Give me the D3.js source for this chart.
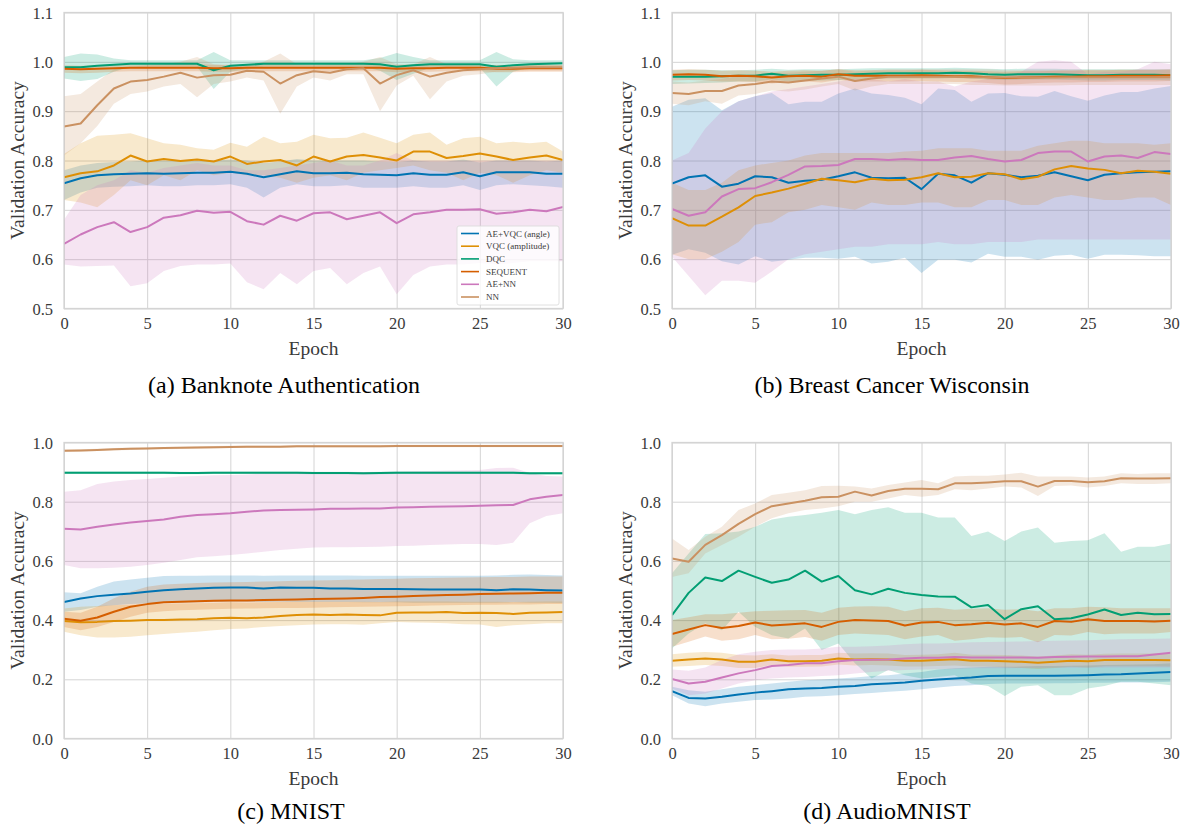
<!DOCTYPE html>
<html>
<head>
<meta charset="utf-8">
<script src="https://cdn.jsdelivr.net/npm/d3@7"></script>
<style>
  body { margin: 0; background: #fff; }
  svg { display: block; }
  .tick text { font-family: "Liberation Serif", "Times New Roman", serif; fill: #3a3a3a; }
</style>
</head>
<body>
<div id="viz"></div>
<script>
// epochs on the x axis
var epochs = d3.range(0, 31);
var xTicks = [0, 5, 10, 15, 20, 25, 30];
var yTicksTop = [0.5, 0.6, 0.7, 0.8, 0.9, 1.0, 1.1];
var yTicksBottom = [0.0, 0.2, 0.4, 0.6, 0.8, 1.0];

var methods = ["AE+VQC (angle)", "VQC (amplitude)", "DQC", "SEQUENT", "AE+NN", "NN"];
var colors = ["#0173b2", "#de8f05", "#029e73", "#d55e00", "#cc78bc", "#ca9161"];

// ---------- (a) Banknote Authentication ----------
var bank_aevqc    = [0.754,0.764,0.770,0.772,0.773,0.774,0.773,0.774,0.775,0.775,0.777,0.773,0.766,0.772,0.778,0.774,0.774,0.775,0.772,0.771,0.770,0.774,0.771,0.771,0.776,0.768,0.776,0.776,0.776,0.773,0.773];
var bank_aevqc_hi = [0.780,0.790,0.795,0.797,0.798,0.800,0.800,0.800,0.800,0.800,0.802,0.800,0.795,0.798,0.803,0.800,0.800,0.800,0.800,0.798,0.797,0.800,0.798,0.798,0.802,0.796,0.800,0.800,0.800,0.798,0.800];
var bank_aevqc_lo = [0.720,0.735,0.745,0.747,0.748,0.750,0.748,0.748,0.750,0.750,0.752,0.745,0.725,0.745,0.752,0.748,0.748,0.750,0.745,0.745,0.745,0.748,0.745,0.745,0.750,0.740,0.750,0.752,0.750,0.748,0.745];
var bank_vqc      = [0.766,0.774,0.778,0.790,0.810,0.798,0.803,0.799,0.802,0.798,0.808,0.793,0.798,0.801,0.790,0.808,0.798,0.808,0.811,0.806,0.800,0.818,0.818,0.805,0.809,0.814,0.808,0.801,0.806,0.810,0.801];
var bank_vqc_hi   = [0.813,0.835,0.850,0.852,0.855,0.845,0.835,0.832,0.825,0.822,0.836,0.828,0.848,0.835,0.838,0.852,0.845,0.846,0.857,0.846,0.835,0.852,0.857,0.832,0.845,0.848,0.835,0.838,0.835,0.838,0.818];
var bank_vqc_lo   = [0.720,0.715,0.705,0.730,0.760,0.750,0.770,0.760,0.780,0.770,0.775,0.770,0.770,0.765,0.755,0.765,0.770,0.760,0.775,0.780,0.785,0.790,0.780,0.775,0.760,0.775,0.770,0.755,0.770,0.780,0.775];
var bank_dqc      = [0.989,0.989,0.992,0.994,0.996,0.996,0.996,0.996,0.996,0.983,0.992,0.994,0.996,0.996,0.996,0.996,0.996,0.996,0.996,0.995,0.990,0.993,0.995,0.995,0.995,0.995,0.990,0.993,0.995,0.996,0.997];
var bank_dqc_hi   = [1.010,1.017,1.015,1.007,1.003,1.003,1.003,1.003,1.003,1.020,1.003,1.003,1.003,1.003,1.003,1.003,1.003,1.003,1.003,1.008,1.018,1.010,1.003,1.003,1.003,1.003,1.020,1.005,1.003,1.003,1.003];
var bank_dqc_lo   = [0.966,0.961,0.965,0.980,0.990,0.990,0.990,0.990,0.990,0.945,0.980,0.985,0.990,0.990,0.990,0.990,0.990,0.990,0.990,0.982,0.963,0.976,0.988,0.988,0.988,0.988,0.950,0.980,0.988,0.990,0.990];
var bank_seq      = [0.986,0.985,0.986,0.987,0.988,0.988,0.988,0.988,0.988,0.987,0.987,0.988,0.988,0.988,0.988,0.988,0.988,0.988,0.988,0.988,0.986,0.987,0.987,0.988,0.988,0.988,0.986,0.986,0.987,0.987,0.987];
var bank_seq_hi   = [0.993,0.992,0.993,0.994,0.994,0.994,0.994,0.994,0.995,0.994,0.994,0.994,0.994,0.994,0.994,0.994,0.994,0.994,0.994,0.994,0.993,0.994,0.994,0.994,0.994,0.994,0.993,0.993,0.994,0.994,0.994];
var bank_seq_lo   = [0.978,0.977,0.978,0.980,0.981,0.981,0.981,0.981,0.981,0.980,0.980,0.981,0.981,0.981,0.981,0.981,0.981,0.981,0.981,0.981,0.979,0.980,0.980,0.981,0.981,0.981,0.979,0.979,0.980,0.980,0.980];
var bank_aenn     = [0.631,0.650,0.665,0.675,0.655,0.665,0.684,0.689,0.698,0.694,0.696,0.677,0.670,0.688,0.678,0.693,0.695,0.681,0.688,0.695,0.673,0.691,0.695,0.700,0.700,0.701,0.692,0.695,0.700,0.697,0.706];
var bank_aenn_hi  = [0.680,0.730,0.750,0.760,0.780,0.775,0.785,0.790,0.795,0.790,0.790,0.780,0.780,0.785,0.790,0.795,0.800,0.790,0.790,0.800,0.815,0.800,0.800,0.800,0.800,0.800,0.800,0.800,0.800,0.800,0.800];
var bank_aenn_lo  = [0.589,0.585,0.586,0.587,0.545,0.551,0.576,0.586,0.589,0.589,0.591,0.553,0.539,0.572,0.549,0.576,0.582,0.549,0.572,0.585,0.529,0.568,0.585,0.589,0.589,0.592,0.589,0.592,0.596,0.596,0.596];
var bank_nn       = [0.869,0.875,0.912,0.946,0.960,0.963,0.970,0.978,0.968,0.973,0.974,0.982,0.980,0.956,0.973,0.981,0.978,0.985,0.987,0.956,0.973,0.983,0.970,0.978,0.983,0.985,0.987,0.988,0.989,0.989,0.989];
var bank_nn_hi    = [0.930,0.935,0.960,0.985,0.990,0.993,0.995,1.000,1.010,0.995,0.992,0.995,1.000,1.017,0.995,0.993,0.995,0.995,1.000,1.010,0.995,0.995,1.010,0.995,0.993,0.993,0.993,0.993,0.993,0.993,0.993];
var bank_nn_lo    = [0.810,0.835,0.870,0.915,0.935,0.940,0.950,0.955,0.928,0.955,0.960,0.968,0.962,0.895,0.950,0.968,0.962,0.975,0.975,0.900,0.952,0.972,0.924,0.960,0.972,0.975,0.980,0.981,0.982,0.982,0.982];

// ---------- (b) Breast Cancer Wisconsin ----------
var bcw_aevqc    = [0.753,0.766,0.770,0.747,0.753,0.768,0.766,0.755,0.759,0.761,0.768,0.776,0.765,0.764,0.765,0.742,0.773,0.770,0.755,0.774,0.771,0.766,0.769,0.776,0.768,0.760,0.771,0.774,0.776,0.777,0.778];
var bcw_aevqc_hi = [0.909,0.923,0.926,0.902,0.920,0.930,0.937,0.914,0.919,0.919,0.936,0.946,0.936,0.933,0.927,0.914,0.946,0.943,0.919,0.936,0.937,0.930,0.929,0.941,0.930,0.921,0.932,0.939,0.939,0.946,0.951];
var bcw_aevqc_lo = [0.609,0.620,0.613,0.596,0.589,0.606,0.595,0.599,0.603,0.603,0.601,0.605,0.591,0.595,0.603,0.572,0.599,0.599,0.593,0.611,0.605,0.605,0.599,0.607,0.609,0.601,0.609,0.609,0.608,0.606,0.606];
var bcw_vqc      = [0.683,0.668,0.668,0.686,0.705,0.728,0.735,0.743,0.753,0.763,0.760,0.756,0.763,0.760,0.761,0.766,0.774,0.766,0.767,0.774,0.772,0.762,0.767,0.782,0.789,0.784,0.781,0.774,0.779,0.777,0.773];
var bcw_vqc_hi   = [0.755,0.740,0.740,0.755,0.780,0.790,0.795,0.800,0.810,0.815,0.815,0.815,0.815,0.815,0.818,0.820,0.825,0.825,0.825,0.820,0.820,0.820,0.830,0.835,0.840,0.840,0.835,0.835,0.835,0.832,0.835];
var bcw_vqc_lo   = [0.610,0.600,0.600,0.615,0.635,0.670,0.675,0.695,0.700,0.710,0.705,0.700,0.715,0.710,0.710,0.715,0.715,0.705,0.705,0.720,0.720,0.710,0.710,0.725,0.730,0.725,0.720,0.720,0.725,0.725,0.710];
var bcw_dqc      = [0.970,0.970,0.970,0.971,0.972,0.972,0.976,0.972,0.973,0.974,0.974,0.975,0.976,0.977,0.977,0.977,0.977,0.978,0.977,0.975,0.974,0.975,0.975,0.975,0.974,0.973,0.973,0.974,0.974,0.974,0.973];
var bcw_dqc_hi   = [0.983,0.984,0.984,0.983,0.983,0.984,0.986,0.984,0.985,0.985,0.985,0.986,0.987,0.987,0.987,0.987,0.987,0.988,0.987,0.986,0.985,0.986,0.986,0.986,0.985,0.985,0.985,0.985,0.985,0.985,0.985];
var bcw_dqc_lo   = [0.955,0.956,0.957,0.958,0.960,0.960,0.964,0.960,0.961,0.962,0.963,0.964,0.965,0.966,0.966,0.966,0.966,0.967,0.966,0.964,0.963,0.964,0.964,0.964,0.963,0.962,0.962,0.963,0.963,0.963,0.962];
var bcw_seq      = [0.974,0.975,0.974,0.971,0.972,0.971,0.968,0.971,0.972,0.970,0.975,0.972,0.972,0.972,0.972,0.973,0.972,0.971,0.971,0.969,0.967,0.968,0.969,0.970,0.970,0.971,0.971,0.972,0.972,0.972,0.973];
var bcw_seq_hi   = [0.984,0.985,0.984,0.982,0.983,0.982,0.980,0.982,0.983,0.982,0.985,0.983,0.983,0.983,0.983,0.984,0.983,0.982,0.982,0.981,0.980,0.981,0.981,0.982,0.982,0.983,0.983,0.984,0.984,0.984,0.985];
var bcw_seq_lo   = [0.962,0.963,0.962,0.960,0.960,0.959,0.956,0.959,0.960,0.958,0.963,0.960,0.960,0.960,0.960,0.961,0.960,0.959,0.959,0.957,0.954,0.955,0.957,0.958,0.958,0.959,0.959,0.960,0.960,0.960,0.961];
var bcw_aenn     = [0.702,0.688,0.695,0.727,0.742,0.744,0.756,0.771,0.788,0.789,0.791,0.803,0.803,0.801,0.803,0.801,0.801,0.806,0.809,0.803,0.798,0.801,0.815,0.818,0.818,0.798,0.808,0.810,0.805,0.817,0.813];
var bcw_aenn_hi  = [0.800,0.815,0.865,0.900,0.920,0.930,0.940,0.945,0.950,0.955,0.960,0.965,0.965,0.960,0.965,0.960,0.960,0.950,0.960,0.965,0.970,0.980,1.000,1.003,1.000,0.975,0.980,0.980,0.985,1.000,0.995];
var bcw_aenn_lo  = [0.605,0.566,0.527,0.556,0.556,0.552,0.575,0.600,0.610,0.615,0.620,0.625,0.625,0.630,0.630,0.630,0.635,0.630,0.630,0.635,0.635,0.635,0.640,0.640,0.640,0.640,0.640,0.640,0.640,0.640,0.640];
var bcw_nn       = [0.937,0.935,0.941,0.941,0.952,0.955,0.960,0.958,0.962,0.966,0.970,0.961,0.966,0.970,0.970,0.970,0.970,0.970,0.969,0.969,0.968,0.968,0.968,0.968,0.969,0.969,0.969,0.969,0.969,0.969,0.969];
var bcw_nn_hi    = [0.960,0.958,0.962,0.965,0.972,0.975,0.978,0.978,0.980,0.982,0.985,0.980,0.983,0.985,0.985,0.985,0.985,0.985,0.985,0.985,0.983,0.983,0.983,0.983,0.984,0.984,0.984,0.984,0.984,0.984,0.984];
var bcw_nn_lo    = [0.915,0.912,0.920,0.915,0.932,0.935,0.942,0.940,0.944,0.950,0.955,0.942,0.950,0.955,0.955,0.955,0.955,0.955,0.953,0.953,0.952,0.952,0.952,0.952,0.953,0.953,0.953,0.953,0.953,0.953,0.953];

// ---------- (c) MNIST ----------
var mnist_aevqc    = [0.461,0.473,0.481,0.486,0.490,0.496,0.501,0.504,0.507,0.509,0.510,0.510,0.507,0.510,0.509,0.509,0.507,0.507,0.505,0.505,0.505,0.504,0.503,0.503,0.503,0.503,0.501,0.504,0.503,0.501,0.500];
var mnist_aevqc_hi = [0.494,0.491,0.513,0.530,0.537,0.543,0.549,0.550,0.550,0.551,0.551,0.551,0.550,0.551,0.551,0.551,0.551,0.551,0.550,0.550,0.550,0.550,0.550,0.550,0.550,0.550,0.551,0.553,0.554,0.552,0.551];
var mnist_aevqc_lo = [0.428,0.434,0.445,0.450,0.454,0.456,0.458,0.459,0.460,0.461,0.462,0.462,0.461,0.462,0.461,0.461,0.461,0.461,0.460,0.460,0.460,0.459,0.459,0.459,0.459,0.459,0.459,0.460,0.459,0.459,0.458];
var mnist_vqc      = [0.397,0.393,0.394,0.397,0.398,0.400,0.400,0.402,0.403,0.406,0.408,0.406,0.409,0.414,0.417,0.419,0.417,0.419,0.417,0.416,0.425,0.426,0.426,0.427,0.424,0.425,0.424,0.421,0.425,0.426,0.427];
var mnist_vqc_hi   = [0.439,0.445,0.448,0.450,0.452,0.454,0.455,0.456,0.457,0.458,0.460,0.459,0.460,0.461,0.462,0.462,0.462,0.462,0.462,0.461,0.463,0.463,0.463,0.463,0.462,0.462,0.462,0.461,0.462,0.463,0.463];
var mnist_vqc_lo   = [0.361,0.349,0.341,0.341,0.344,0.349,0.353,0.357,0.361,0.366,0.370,0.372,0.377,0.380,0.383,0.385,0.386,0.386,0.384,0.389,0.394,0.392,0.391,0.389,0.386,0.385,0.377,0.383,0.386,0.389,0.389];
var mnist_dqc      = [0.898,0.898,0.898,0.898,0.898,0.898,0.898,0.897,0.897,0.898,0.898,0.898,0.898,0.898,0.898,0.897,0.897,0.897,0.896,0.897,0.898,0.898,0.898,0.898,0.898,0.898,0.898,0.898,0.896,0.896,0.896];
var mnist_dqc_hi   = [0.902,0.902,0.902,0.902,0.902,0.902,0.902,0.901,0.901,0.902,0.902,0.902,0.902,0.902,0.902,0.901,0.901,0.901,0.900,0.901,0.902,0.902,0.902,0.902,0.902,0.902,0.902,0.902,0.900,0.900,0.900];
var mnist_dqc_lo   = [0.894,0.894,0.894,0.894,0.894,0.894,0.894,0.893,0.893,0.894,0.894,0.894,0.894,0.894,0.894,0.893,0.893,0.893,0.892,0.893,0.894,0.894,0.894,0.894,0.894,0.894,0.894,0.894,0.892,0.892,0.892];
var mnist_seq      = [0.405,0.398,0.409,0.428,0.445,0.454,0.460,0.462,0.464,0.465,0.466,0.466,0.468,0.469,0.470,0.471,0.472,0.473,0.475,0.478,0.479,0.481,0.483,0.485,0.486,0.488,0.489,0.490,0.491,0.492,0.492];
var mnist_seq_hi   = [0.428,0.425,0.445,0.474,0.496,0.513,0.520,0.523,0.525,0.527,0.528,0.529,0.530,0.531,0.533,0.534,0.535,0.536,0.537,0.539,0.540,0.541,0.542,0.543,0.544,0.545,0.546,0.546,0.547,0.547,0.547];
var mnist_seq_lo   = [0.377,0.366,0.377,0.394,0.411,0.425,0.430,0.433,0.435,0.437,0.438,0.439,0.440,0.441,0.441,0.442,0.443,0.444,0.445,0.446,0.447,0.448,0.449,0.450,0.451,0.452,0.452,0.453,0.453,0.454,0.454];
var mnist_aenn     = [0.709,0.706,0.715,0.723,0.730,0.735,0.740,0.749,0.755,0.758,0.761,0.766,0.770,0.772,0.773,0.774,0.776,0.776,0.777,0.777,0.780,0.781,0.783,0.784,0.785,0.786,0.788,0.789,0.808,0.817,0.823];
var mnist_aenn_hi  = [0.834,0.839,0.860,0.868,0.873,0.877,0.881,0.885,0.887,0.889,0.890,0.892,0.895,0.896,0.898,0.898,0.899,0.899,0.900,0.900,0.901,0.903,0.904,0.905,0.906,0.907,0.914,0.915,0.897,0.887,0.885];
var mnist_aenn_lo  = [0.586,0.575,0.575,0.577,0.580,0.586,0.594,0.603,0.612,0.616,0.620,0.625,0.631,0.637,0.641,0.645,0.646,0.646,0.647,0.648,0.650,0.651,0.654,0.655,0.657,0.657,0.654,0.661,0.727,0.752,0.761];
var mnist_nn       = [0.972,0.973,0.975,0.977,0.979,0.980,0.981,0.982,0.983,0.984,0.985,0.986,0.986,0.986,0.987,0.987,0.987,0.987,0.987,0.987,0.988,0.988,0.988,0.988,0.988,0.988,0.988,0.988,0.988,0.988,0.988];
var mnist_nn_hi    = [0.976,0.977,0.979,0.981,0.983,0.984,0.985,0.986,0.987,0.988,0.989,0.990,0.990,0.990,0.991,0.991,0.991,0.991,0.991,0.991,0.992,0.992,0.992,0.992,0.992,0.992,0.992,0.992,0.992,0.992,0.992];
var mnist_nn_lo    = [0.968,0.969,0.971,0.973,0.975,0.976,0.977,0.978,0.979,0.980,0.981,0.982,0.982,0.982,0.983,0.983,0.983,0.983,0.983,0.983,0.984,0.984,0.984,0.984,0.984,0.984,0.984,0.984,0.984,0.984,0.984];

// ---------- (d) AudioMNIST ----------
var audio_aevqc    = [0.160,0.137,0.135,0.141,0.149,0.155,0.160,0.166,0.169,0.171,0.175,0.177,0.183,0.186,0.189,0.195,0.199,0.203,0.206,0.211,0.212,0.212,0.212,0.212,0.213,0.214,0.216,0.217,0.220,0.222,0.225];
var audio_aevqc_hi = [0.175,0.163,0.158,0.166,0.175,0.180,0.186,0.192,0.197,0.199,0.203,0.206,0.211,0.214,0.220,0.225,0.233,0.237,0.240,0.242,0.242,0.243,0.245,0.245,0.246,0.247,0.248,0.249,0.250,0.251,0.254];
var audio_aevqc_lo = [0.146,0.118,0.109,0.118,0.124,0.130,0.132,0.135,0.141,0.143,0.146,0.150,0.154,0.158,0.161,0.166,0.172,0.177,0.180,0.184,0.186,0.186,0.186,0.187,0.187,0.188,0.188,0.189,0.189,0.190,0.192];
var audio_vqc      = [0.263,0.267,0.270,0.267,0.259,0.259,0.267,0.261,0.261,0.263,0.270,0.267,0.268,0.267,0.263,0.263,0.265,0.268,0.263,0.263,0.261,0.259,0.256,0.259,0.263,0.261,0.265,0.265,0.265,0.265,0.264];
var audio_vqc_hi   = [0.285,0.290,0.292,0.290,0.282,0.280,0.285,0.280,0.282,0.282,0.290,0.287,0.288,0.287,0.282,0.283,0.285,0.290,0.283,0.283,0.282,0.280,0.277,0.280,0.285,0.283,0.286,0.287,0.287,0.287,0.286];
var audio_vqc_lo   = [0.242,0.245,0.248,0.245,0.238,0.238,0.248,0.242,0.242,0.243,0.250,0.247,0.248,0.247,0.243,0.243,0.245,0.247,0.243,0.243,0.241,0.238,0.235,0.238,0.242,0.240,0.244,0.244,0.244,0.244,0.243];
var audio_dqc      = [0.417,0.492,0.544,0.532,0.567,0.546,0.526,0.537,0.567,0.530,0.549,0.501,0.487,0.506,0.492,0.485,0.480,0.479,0.443,0.451,0.403,0.437,0.447,0.403,0.406,0.419,0.436,0.417,0.425,0.420,0.421];
var audio_dqc_hi   = [0.558,0.625,0.691,0.693,0.699,0.715,0.740,0.749,0.755,0.763,0.772,0.758,0.772,0.781,0.763,0.763,0.747,0.747,0.684,0.699,0.667,0.699,0.713,0.661,0.667,0.670,0.693,0.631,0.648,0.648,0.659];
var audio_dqc_lo   = [0.304,0.355,0.389,0.366,0.428,0.377,0.349,0.338,0.372,0.299,0.321,0.254,0.203,0.231,0.214,0.203,0.208,0.214,0.186,0.177,0.144,0.175,0.180,0.146,0.146,0.169,0.177,0.192,0.192,0.186,0.180];
var audio_seq      = [0.353,0.368,0.383,0.373,0.380,0.392,0.382,0.385,0.389,0.377,0.394,0.400,0.399,0.397,0.382,0.392,0.394,0.383,0.386,0.391,0.385,0.389,0.377,0.397,0.394,0.403,0.397,0.397,0.397,0.395,0.398];
var audio_seq_hi   = [0.400,0.410,0.420,0.420,0.425,0.430,0.432,0.433,0.434,0.425,0.442,0.446,0.447,0.445,0.430,0.440,0.442,0.435,0.438,0.440,0.435,0.437,0.430,0.440,0.440,0.445,0.443,0.440,0.440,0.440,0.440];
var audio_seq_lo   = [0.310,0.327,0.345,0.330,0.335,0.350,0.335,0.337,0.343,0.330,0.350,0.355,0.352,0.350,0.335,0.345,0.350,0.330,0.335,0.342,0.340,0.343,0.325,0.350,0.348,0.360,0.352,0.355,0.355,0.355,0.360];
var audio_aenn     = [0.201,0.186,0.192,0.206,0.220,0.231,0.245,0.248,0.254,0.254,0.261,0.265,0.266,0.267,0.270,0.273,0.273,0.275,0.274,0.274,0.274,0.274,0.273,0.275,0.276,0.277,0.277,0.278,0.278,0.284,0.290];
var audio_aenn_hi  = [0.233,0.229,0.240,0.265,0.285,0.293,0.299,0.301,0.301,0.304,0.310,0.310,0.312,0.314,0.318,0.321,0.321,0.323,0.325,0.326,0.327,0.328,0.329,0.330,0.331,0.332,0.334,0.335,0.336,0.337,0.338];
var audio_aenn_lo  = [0.169,0.146,0.152,0.169,0.186,0.197,0.203,0.206,0.208,0.211,0.214,0.220,0.225,0.229,0.231,0.233,0.234,0.235,0.237,0.237,0.237,0.238,0.238,0.239,0.239,0.239,0.240,0.240,0.240,0.240,0.240];
var audio_nn       = [0.608,0.597,0.654,0.687,0.725,0.758,0.785,0.794,0.803,0.815,0.817,0.834,0.821,0.836,0.844,0.844,0.842,0.862,0.862,0.865,0.869,0.869,0.851,0.870,0.870,0.866,0.869,0.879,0.878,0.878,0.879];
var audio_nn_hi    = [0.676,0.637,0.682,0.715,0.772,0.794,0.823,0.830,0.839,0.853,0.854,0.851,0.845,0.856,0.865,0.873,0.862,0.885,0.888,0.888,0.892,0.898,0.885,0.885,0.885,0.882,0.885,0.896,0.894,0.896,0.896];
var audio_nn_lo    = [0.546,0.558,0.625,0.654,0.682,0.715,0.744,0.761,0.772,0.777,0.785,0.800,0.800,0.811,0.823,0.817,0.823,0.842,0.839,0.845,0.851,0.848,0.819,0.853,0.855,0.848,0.853,0.862,0.860,0.860,0.862];

// panel layout
var plotW = 499;
var plotH = 296;
var panels = [
  { caption: "(a) Banknote Authentication", left: 64,  top: 12.5,  domain: [0.5, 1.1], ticks: yTicksTop, capX: 284, capY: 393, legend: true,
    series: [[bank_aevqc, bank_aevqc_lo, bank_aevqc_hi], [bank_vqc, bank_vqc_lo, bank_vqc_hi], [bank_dqc, bank_dqc_lo, bank_dqc_hi],
             [bank_seq, bank_seq_lo, bank_seq_hi], [bank_aenn, bank_aenn_lo, bank_aenn_hi], [bank_nn, bank_nn_lo, bank_nn_hi]] },
  { caption: "(b) Breast Cancer Wisconsin", left: 672, top: 12.5,  domain: [0.5, 1.1], ticks: yTicksTop, capX: 892, capY: 393,
    series: [[bcw_aevqc, bcw_aevqc_lo, bcw_aevqc_hi], [bcw_vqc, bcw_vqc_lo, bcw_vqc_hi], [bcw_dqc, bcw_dqc_lo, bcw_dqc_hi],
             [bcw_seq, bcw_seq_lo, bcw_seq_hi], [bcw_aenn, bcw_aenn_lo, bcw_aenn_hi], [bcw_nn, bcw_nn_lo, bcw_nn_hi]] },
  { caption: "(c) MNIST", left: 64,  top: 442.5, domain: [0, 1], ticks: yTicksBottom, capX: 291, capY: 819,
    series: [[mnist_aevqc, mnist_aevqc_lo, mnist_aevqc_hi], [mnist_vqc, mnist_vqc_lo, mnist_vqc_hi], [mnist_dqc, mnist_dqc_lo, mnist_dqc_hi],
             [mnist_seq, mnist_seq_lo, mnist_seq_hi], [mnist_aenn, mnist_aenn_lo, mnist_aenn_hi], [mnist_nn, mnist_nn_lo, mnist_nn_hi]] },
  { caption: "(d) AudioMNIST", left: 672, top: 442.5, domain: [0, 1], ticks: yTicksBottom, capX: 887, capY: 819,
    series: [[audio_aevqc, audio_aevqc_lo, audio_aevqc_hi], [audio_vqc, audio_vqc_lo, audio_vqc_hi], [audio_dqc, audio_dqc_lo, audio_dqc_hi],
             [audio_seq, audio_seq_lo, audio_seq_hi], [audio_aenn, audio_aenn_lo, audio_aenn_hi], [audio_nn, audio_nn_lo, audio_nn_hi]] }
];

var svg = d3.select('#viz').append('svg')
  .attr('width', 1190)
  .attr('height', 829);

var gridColor = '#d4d4d4';
var serif = '"Liberation Serif", "Times New Roman", serif';

panels.forEach(function(p, pi) {
  var x = d3.scaleLinear().domain([0, 30]).range([0, plotW]);
  var y = d3.scaleLinear().domain(p.domain).range([plotH, 0]);

  var g = svg.append('g').attr('transform', 'translate(' + p.left + ',' + p.top + ')');

  svg.append('clipPath').attr('id', 'clip' + pi)
    .append('rect').attr('width', plotW).attr('height', plotH);

  // grid + tick labels
  g.append('g')
    .attr('class', 'axis yAxis')
    .call(d3.axisLeft(y).tickValues(p.ticks).tickFormat(d3.format('.1f')).tickSize(-plotW).tickPadding(11))
    .call(function(a) {
      a.select('.domain').remove();
      a.selectAll('line').attr('stroke', gridColor).attr('stroke-width', 1);
      a.selectAll('text').style('font-size', '16.5px').attr('dy', '0.34em');
    });

  g.append('g')
    .attr('class', 'axis xAxis')
    .attr('transform', 'translate(0,' + plotH + ')')
    .call(d3.axisBottom(x).tickValues(xTicks).tickSize(-plotH).tickPadding(9))
    .call(function(a) {
      a.select('.domain').remove();
      a.selectAll('line').attr('stroke', gridColor).attr('stroke-width', 1);
      a.selectAll('text').style('font-size', '16.5px');
    });

  var plot = g.append('g').attr('clip-path', 'url(#clip' + pi + ')');

  var area = d3.area()
    .x(function(d) { return x(d.e); })
    .y0(function(d) { return y(d.lo); })
    .y1(function(d) { return y(d.hi); });

  var line = d3.line()
    .x(function(d) { return x(d.e); })
    .y(function(d) { return y(d.v); });

  // bands first (matplotlib puts fills below lines)
  p.series.forEach(function(s, i) {
    var rows = epochs.map(function(e, k) { return { e: e, v: s[0][k], lo: s[1][k], hi: s[2][k] }; });
    plot.append('path')
      .datum(rows)
      .attr('d', area)
      .attr('fill', colors[i])
      .attr('fill-opacity', 0.2)
      .attr('stroke', 'none');
  });

  p.series.forEach(function(s, i) {
    var rows = epochs.map(function(e, k) { return { e: e, v: s[0][k] }; });
    plot.append('path')
      .datum(rows)
      .attr('d', line)
      .attr('fill', 'none')
      .attr('stroke', colors[i])
      .attr('stroke-width', 2)
      .attr('stroke-linejoin', 'round');
  });

  // frame
  g.append('rect')
    .attr('width', plotW).attr('height', plotH)
    .attr('fill', 'none')
    .attr('stroke', gridColor)
    .attr('stroke-width', 1.3);

  // axis labels
  g.append('text')
    .attr('x', plotW / 2)
    .attr('y', plotH + 46)
    .attr('text-anchor', 'middle')
    .style('font-family', serif)
    .style('font-size', '19.5px')
    .attr('fill', '#3a3a3a')
    .text('Epoch');

  g.append('text')
    .attr('transform', 'translate(' + (-40) + ',' + (plotH / 2) + ') rotate(-90)')
    .attr('text-anchor', 'middle')
    .style('font-family', serif)
    .style('font-size', '19.5px')
    .attr('fill', '#3a3a3a')
    .text('Validation Accuracy');

  // caption under the subfigure
  svg.append('text')
    .attr('x', p.capX)
    .attr('y', p.capY)
    .attr('text-anchor', 'middle')
    .style('font-family', serif)
    .style('font-size', '24px')
    .attr('fill', '#000')
    .text(p.caption);

  // legend only in the first panel
  if (p.legend) {
    var lg = g.append('g').attr('transform', 'translate(' + (457 - p.left) + ',' + (226 - p.top) + ')');
    lg.append('rect')
      .attr('width', 102).attr('height', 79)
      .attr('rx', 2)
      .attr('fill', '#fff').attr('fill-opacity', 0.8)
      .attr('stroke', '#d8d8d8').attr('stroke-width', 0.8);
    methods.forEach(function(m, i) {
      var yy = 7.5 + i * 12.7;
      lg.append('line')
        .attr('x1', 4).attr('x2', 22)
        .attr('y1', yy).attr('y2', yy)
        .attr('stroke', colors[i]).attr('stroke-width', 1.6);
      lg.append('text')
        .attr('x', 29).attr('y', yy)
        .attr('dy', '0.35em')
        .style('font-family', serif)
        .style('font-size', '9px')
        .attr('fill', '#3a3a3a')
        .text(m);
    });
  }
});
</script>
</body>
</html>
